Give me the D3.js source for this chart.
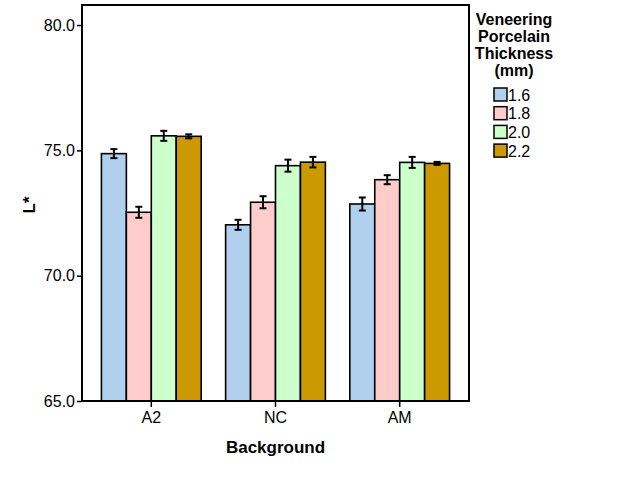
<!DOCTYPE html>
<html><head><meta charset="utf-8">
<script src="https://cdn.jsdelivr.net/npm/d3@7"></script>
<style>body{margin:0;background:#fff}svg{display:block;font-family:Arial,"Liberation Sans",sans-serif}</style>
</head><body><svg id="c" width="626" height="501"></svg>
<script>
const categories = ["A2","NC","AM"];
const seriesNames = ["1.6","1.8","2.0","2.2"];
const seriesColors = ["#B0D0EE","#FFCCCC","#CCFFCC","#CC9900"];
const means = [
  [74.87, 72.53, 75.58, 75.56],
  [72.03, 72.93, 74.39, 74.53],
  [72.86, 73.83, 74.52, 74.48]
];
const errs = [
  [0.18, 0.22, 0.20, 0.08],
  [0.20, 0.24, 0.24, 0.21],
  [0.26, 0.18, 0.22, 0.06]
];
const yTicks = [65, 70, 75, 80];

const svg = d3.select("#c");
const L = 82, R = 469, T = 5, B = 401;
const y = d3.scaleLinear().domain([65, 80.8]).range([B, T]);
const x = d3.scaleBand().domain(categories).range([L, R]).paddingInner(0).paddingOuter(0.058);
const xs = d3.scaleBand().domain(seriesNames).range([0, x.bandwidth()]).paddingInner(0).paddingOuter(0.49);

// bars
categories.forEach((c, i) => {
  const g = svg.append("g").attr("transform", `translate(${x(c)},0)`);
  seriesNames.forEach((s, j) => {
    g.append("rect")
      .attr("x", xs(s)).attr("width", xs.bandwidth())
      .attr("y", y(means[i][j])).attr("height", B - y(means[i][j]))
      .attr("fill", seriesColors[j]).attr("stroke", "#000").attr("stroke-width", 1.6);
  });
  seriesNames.forEach((s, j) => {
    const cx = xs(s) + xs.bandwidth() / 2;
    const y1 = y(means[i][j] + errs[i][j]), y2 = y(means[i][j] - errs[i][j]);
    g.append("line").attr("x1", cx).attr("x2", cx).attr("y1", y1).attr("y2", y2).attr("stroke", "#000").attr("stroke-width", 2);
    [y1, y2].forEach(yy => g.append("line").attr("x1", cx - 3.5).attr("x2", cx + 3.5).attr("y1", yy).attr("y2", yy).attr("stroke", "#000").attr("stroke-width", 2));
  });
});

// frame
svg.append("rect").attr("x", L).attr("y", T).attr("width", R - L).attr("height", B - T)
  .attr("fill", "none").attr("stroke", "#000").attr("stroke-width", 2);

// y axis
const yAxis = svg.append("g").attr("transform", `translate(${L},0)`)
  .call(d3.axisLeft(y).tickValues(yTicks).tickFormat(d3.format(".1f")).tickSize(5).tickPadding(2));
yAxis.select(".domain").remove();
yAxis.selectAll(".tick line").attr("stroke", "#000").attr("stroke-width", 1.5);
yAxis.selectAll(".tick text").attr("font-size", 16).attr("fill", "#000").attr("font-family", "Arial, Liberation Sans, sans-serif");

// x axis
const xAxis = svg.append("g").attr("transform", `translate(0,${B})`)
  .call(d3.axisBottom(x).tickSize(6).tickPadding(5));
xAxis.select(".domain").remove();
xAxis.selectAll(".tick line").attr("stroke", "#000").attr("stroke-width", 1.5);
xAxis.selectAll(".tick text").attr("font-size", 16).attr("fill", "#000").attr("font-family", "Arial, Liberation Sans, sans-serif");

// axis titles
svg.append("text").attr("x", (L + R) / 2).attr("y", 453).attr("text-anchor", "middle")
  .attr("font-size", 17).attr("font-weight", "bold").text("Background");
svg.append("text").attr("transform", "translate(35,205) rotate(-90)").attr("text-anchor", "middle")
  .attr("font-size", 17).attr("font-weight", "bold").text("L*");

// legend
const titleLines = ["Veneering", "Porcelain", "Thickness", "(mm)"];
titleLines.forEach((t, k) => {
  svg.append("text").attr("x", 514).attr("y", 25 + k * 17).attr("text-anchor", "middle")
    .attr("font-size", 16).attr("font-weight", "bold").text(t);
});
seriesNames.forEach((s, j) => {
  const yy = 88 + j * 18.7;
  svg.append("rect").attr("x", 494).attr("y", yy).attr("width", 13).attr("height", 13)
    .attr("fill", seriesColors[j]).attr("stroke", "#000").attr("stroke-width", 1.5);
  svg.append("text").attr("x", 508).attr("y", yy + 12.5).attr("font-size", 16).text(s);
});
</script></body></html>
